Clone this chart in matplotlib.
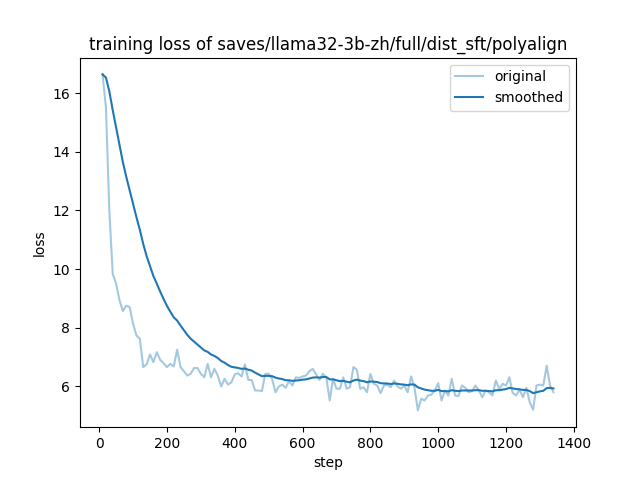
import matplotlib
matplotlib.use("Agg")
import matplotlib.pyplot as plt

steps = list(range(10, 1350, 10))
original = [
    16.65, 15.53, 12.0, 9.84, 9.50, 8.93, 8.56, 8.75, 8.70, 8.13,
    7.73, 7.62, 6.65, 6.74, 7.08, 6.82, 7.16, 6.90, 6.78, 6.65,
    6.76, 6.67, 7.24, 6.65, 6.51, 6.36, 6.42, 6.62, 6.62, 6.42,
    6.30, 6.76, 6.30, 6.59, 6.36, 5.99, 6.25, 6.05, 6.13, 6.40,
    6.44, 6.33, 6.74, 6.21, 6.21, 5.85, 5.85, 5.83, 6.42, 6.42,
    6.25, 5.79, 5.99, 6.05, 5.94, 6.17, 6.02, 6.30, 6.28, 6.33,
    6.36, 6.51, 6.59, 6.40, 6.21, 6.42, 6.30, 5.51, 6.25, 5.91,
    5.91, 6.30, 5.91, 5.96, 6.65, 6.56, 5.91, 5.96, 5.79, 6.42,
    6.08, 6.02, 5.76, 6.02, 6.05, 5.96, 6.19, 5.99, 5.91, 6.02,
    5.79, 6.33, 5.96, 5.17, 5.57, 5.51, 5.68, 5.71, 5.85, 6.10,
    5.51, 5.85, 5.68, 6.25, 5.68, 5.66, 6.02, 5.94, 5.79, 5.83,
    6.02, 5.85, 5.62, 5.85, 5.79, 5.68, 6.19, 5.90, 6.08, 6.02,
    6.30, 5.76, 5.68, 5.88, 5.62, 5.94, 5.45, 5.19, 6.02, 6.05,
    6.02, 6.70, 6.02, 5.79,
]
smoothed = [
    16.65, 16.54, 16.07, 15.43, 14.83, 14.23, 13.65, 13.15, 12.69, 12.23,
    11.77, 11.34, 10.86, 10.44, 10.10, 9.76, 9.50, 9.23, 8.98, 8.74,
    8.54, 8.35, 8.24, 8.07, 7.91, 7.75, 7.62, 7.52, 7.42, 7.32,
    7.22, 7.17, 7.08, 7.03, 6.96, 6.86, 6.80, 6.72, 6.66, 6.64,
    6.62, 6.59, 6.60, 6.56, 6.53, 6.46, 6.40, 6.34, 6.35, 6.35,
    6.34, 6.29, 6.26, 6.24, 6.20, 6.20, 6.18, 6.19, 6.20, 6.22,
    6.23, 6.26, 6.29, 6.30, 6.29, 6.31, 6.31, 6.23, 6.23, 6.20,
    6.17, 6.18, 6.15, 6.13, 6.19, 6.22, 6.19, 6.17, 6.13, 6.16,
    6.15, 6.14, 6.10, 6.09, 6.09, 6.07, 6.09, 6.08, 6.06, 6.05,
    6.03, 6.06, 6.05, 5.96, 5.92, 5.88, 5.86, 5.84, 5.84, 5.87,
    5.83, 5.83, 5.82, 5.86, 5.84, 5.83, 5.85, 5.85, 5.85, 5.85,
    5.86, 5.86, 5.84, 5.84, 5.83, 5.82, 5.86, 5.86, 5.88, 5.90,
    5.94, 5.92, 5.90, 5.89, 5.87, 5.87, 5.83, 5.76, 5.79, 5.82,
    5.84, 5.93, 5.94, 5.92,
]

plt.figure(figsize=(6.4, 4.8), dpi=100)
plt.plot(steps, original, color="#1f77b4", alpha=0.4, label="original")
plt.plot(steps, smoothed, color="#1f77b4", label="smoothed")
plt.title("training loss of saves/llama32-3b-zh/full/dist_sft/polyalign")
plt.xlabel("step")
plt.ylabel("loss")
plt.legend()
plt.savefig("out.png")
